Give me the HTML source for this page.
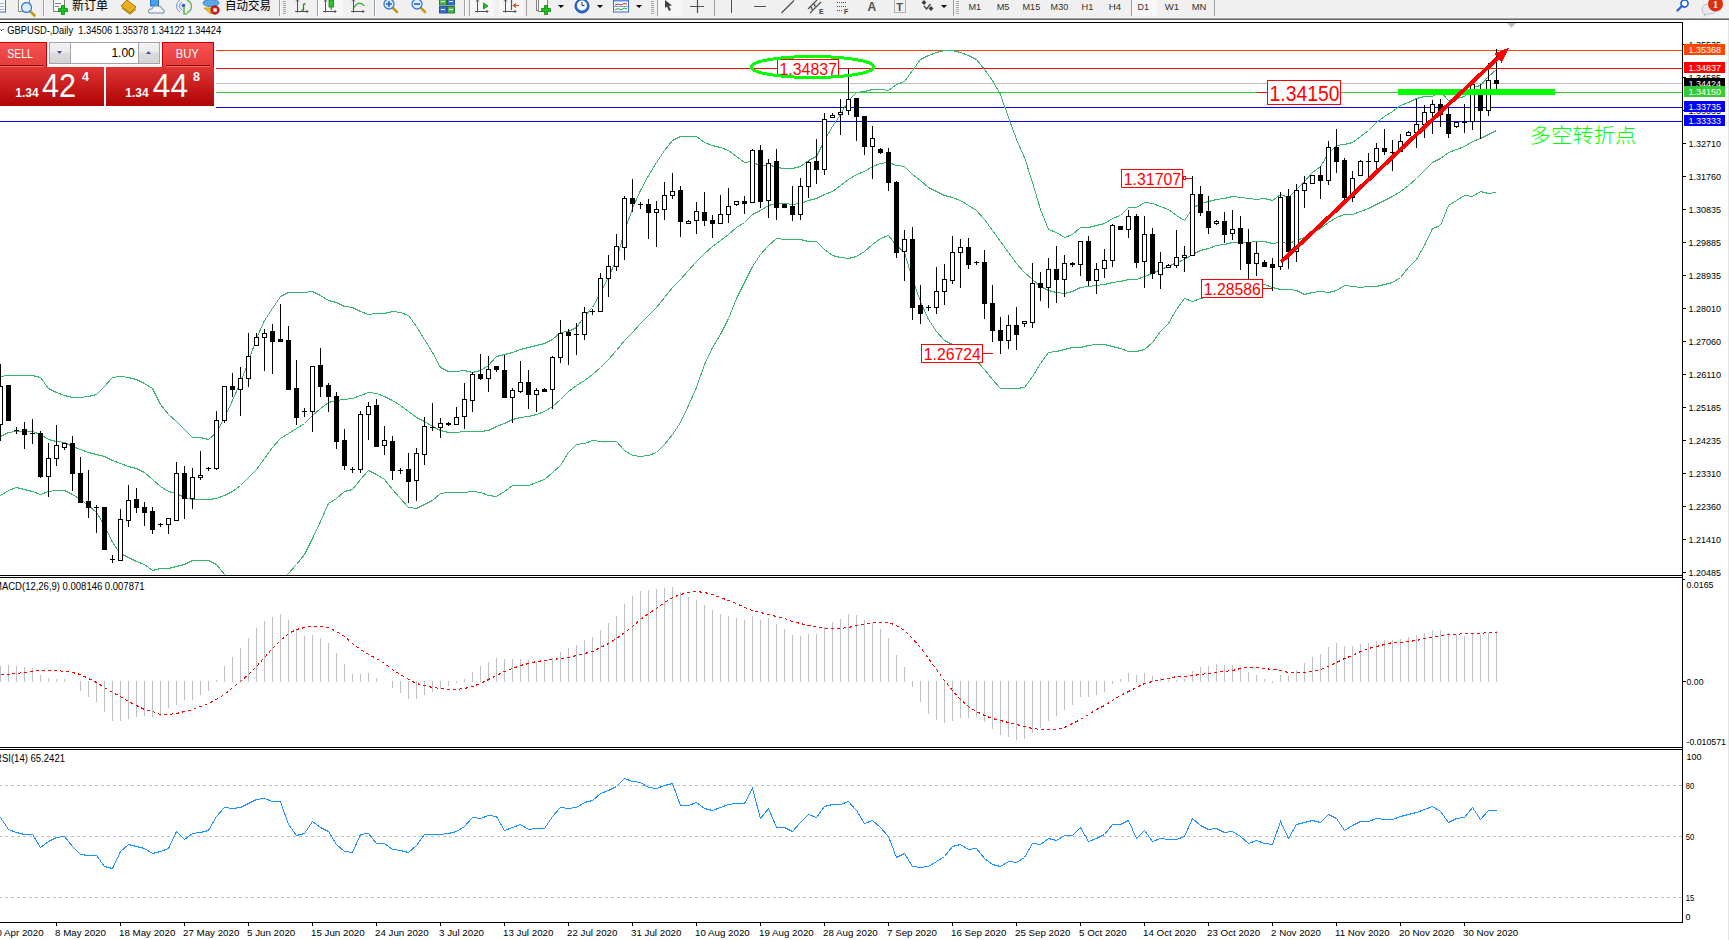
<!DOCTYPE html>
<html><head><meta charset="utf-8"><title>GBPUSD-,Daily</title>
<style>
html,body{margin:0;padding:0;background:#fff;}
body{width:1729px;height:940px;overflow:hidden;position:relative;}
svg text{white-space:pre;}
</style></head><body>
<svg width="1729" height="940" viewBox="0 0 1729 940" shape-rendering="crispEdges" style="position:absolute;left:0;top:0">
<defs><clipPath id="cMain"><rect x="0" y="23" width="1682" height="552"/></clipPath><clipPath id="cMacd"><rect x="0" y="578" width="1682" height="169"/></clipPath><clipPath id="cRsi"><rect x="0" y="750" width="1682" height="172"/></clipPath></defs>
<rect x="0" y="0" width="1729" height="17" fill="#f0f0f0"/>
<rect x="0" y="17" width="1729" height="1" fill="#f6f6f6"/>
<rect x="0" y="18" width="1729" height="1" fill="#a0a0a0"/>
<rect x="0" y="19" width="1729" height="1" fill="#696969"/>
<rect x="0" y="20" width="1729" height="2" fill="#ffffff"/>
<g id="toolbar-icons"><g shape-rendering="auto">
<rect x="-6" y="-2" width="11.5" height="14" fill="#fff" stroke="#3d6fd0" stroke-width="1"/>
<path d="M0,3.5 h4 M0,6.5 h4 M0,9.5 h4" stroke="#8fb0ee" stroke-width="1"/>
<rect x="18.5" y="-2.5" width="11" height="14" fill="#fafafa" stroke="#909090" stroke-width="1"/>
<line x1="30" y1="11" x2="34.5" y2="15.5" stroke="#c89a10" stroke-width="2.6" stroke-linecap="round"/><circle cx="26.5" cy="7.5" r="5" fill="#dcecff" stroke="#3a7bd5" stroke-width="1.3"/>
<rect x="43" y="0" width="1" height="16" fill="#a0a0a0"/><rect x="44" y="0" width="1" height="16" fill="#ffffff"/>
<rect x="53.5" y="-2.5" width="11" height="14" fill="#fafafa" stroke="#808080" stroke-width="1"/>
<path d="M55,3.5 h6 M55,6.5 h4" stroke="#888" stroke-width="1"/>
<path d="M61.5,5.5 h3 v3 h3 v3 h-3 v3 h-3 v-3 h-3 v-3 h3 z" fill="#1dbf1d" stroke="#0b8a0b" stroke-width="0.8"/>
<text x="72" y="10" font-family="'Liberation Sans', 'Noto Sans CJK SC', sans-serif" font-size="12.5" fill="#000" textLength="36" lengthAdjust="spacingAndGlyphs">新订单</text>
<path d="M121,6 L127,0 L136,7 L130,13 Z" fill="#e8b020" stroke="#a87808" stroke-width="1"/>
<path d="M122,8 L130,14 L136,9" fill="none" stroke="#b88a18" stroke-width="1.2"/>
<rect x="150.5" y="-2" width="8" height="8" fill="#4aa0f0" stroke="#2a6fc0" stroke-width="1"/>
<path d="M149,13 q-2,-4 3,-4 q1,-4 6,-3 q4,0 4,3 q3,0 2,4 z" fill="#f4f6fa" stroke="#6a84b0" stroke-width="1"/>
<path d="M180,12 a7,7 0 0 1 0,-12" fill="none" stroke="#6890e0" stroke-width="1"/>
<path d="M182,10 a4.5,4.5 0 0 1 0,-8" fill="none" stroke="#6890e0" stroke-width="1"/>
<path d="M187,0 a7,7 0 0 1 0,13" fill="none" stroke="#6ab86a" stroke-width="1.5"/>
<circle cx="183.5" cy="5.5" r="1.8" fill="#2f5fc8"/>
<path d="M184,6 v8 h3" fill="none" stroke="#2aa52a" stroke-width="1.2"/>
<ellipse cx="211" cy="3" rx="8" ry="3.5" fill="#5aa9e6" stroke="#3c7fbf" stroke-width="1"/>
<path d="M204,8 L211,14 L217,8 Z" fill="#f3c431" stroke="#c89818" stroke-width="1"/>
<circle cx="215" cy="10" r="4.2" fill="#d32020" stroke="#a01010" stroke-width="0.8"/>
<rect x="213.3" y="8.3" width="3.4" height="3.4" fill="#fff"/>
<text x="225" y="10" font-family="'Liberation Sans', 'Noto Sans CJK SC', sans-serif" font-size="12.5" fill="#000" textLength="46" lengthAdjust="spacingAndGlyphs">自动交易</text>
</g>
<rect x="279" y="0" width="1" height="16" fill="#a0a0a0"/><rect x="280" y="0" width="1" height="16" fill="#ffffff"/>
<rect x="283" y="1" width="3" height="1" fill="#a8a8a8"/><rect x="283" y="3" width="3" height="1" fill="#a8a8a8"/><rect x="283" y="5" width="3" height="1" fill="#a8a8a8"/><rect x="283" y="7" width="3" height="1" fill="#a8a8a8"/><rect x="283" y="9" width="3" height="1" fill="#a8a8a8"/><rect x="283" y="11" width="3" height="1" fill="#a8a8a8"/><rect x="283" y="13" width="3" height="1" fill="#a8a8a8"/>
<g shape-rendering="auto">
<g stroke="#505050" stroke-width="1" fill="none"><path d="M297.5,0 V12.5 M295,11.5 H308"/><path d="M296,1.5 L297.5,0 L299,1.5 M306.5,10 L308,11.5 L306.5,13"/></g>
<path d="M301.5,10 h2 v-6 M303.5,4 h2" stroke="#1a9a1a" stroke-width="1.3" fill="none"/>
</g>
<rect x="317" y="0" width="1" height="16" fill="#a0a0a0"/><rect x="318" y="0" width="1" height="16" fill="#ffffff"/>
<rect x="319" y="0" width="24" height="16" fill="#f7f7f7"/>
<g shape-rendering="auto">
<g stroke="#505050" stroke-width="1" fill="none"><path d="M325.5,0 V12.5 M323,11.5 H336"/><path d="M324,1.5 L325.5,0 L327,1.5 M334.5,10 L336,11.5 L334.5,13"/></g>
<rect x="329" y="0" width="4.5" height="7" fill="#28c828" stroke="#108010" stroke-width="0.8"/>
<path d="M331.2,7 v3" stroke="#108010" stroke-width="1"/>
<g stroke="#505050" stroke-width="1" fill="none"><path d="M353.5,0 V12.5 M351,11.5 H364"/><path d="M352,1.5 L353.5,0 L355,1.5 M362.5,10 L364,11.5 L362.5,13"/></g>
<path d="M353,9 q3,-5 6,-6 q3,0 5.5,3" fill="none" stroke="#1a9a1a" stroke-width="1.1"/>
</g>
<rect x="374" y="0" width="1" height="16" fill="#a0a0a0"/><rect x="375" y="0" width="1" height="16" fill="#ffffff"/>
<g shape-rendering="auto">
<line x1="392.5" y1="7.5" x2="397" y2="12" stroke="#c89a10" stroke-width="2.6" stroke-linecap="round"/><circle cx="389" cy="4" r="5" fill="#dcecff" stroke="#3a7bd5" stroke-width="1.3"/><path d="M386,4 h6 M389,1 v6" stroke="#2a63b8" stroke-width="1.6"/>
<line x1="420.5" y1="7.5" x2="425" y2="12" stroke="#c89a10" stroke-width="2.6" stroke-linecap="round"/><circle cx="417" cy="4" r="5" fill="#dcecff" stroke="#3a7bd5" stroke-width="1.3"/><path d="M414,4 h6" stroke="#2a63b8" stroke-width="1.6"/>
<rect x="439.5" y="-1.5" width="7" height="6.5" fill="#48b848" stroke="#2a7a2a"/><rect x="447.5" y="-1.5" width="7" height="6.5" fill="#3a6fd8" stroke="#2a4fa8"/>
<rect x="439.5" y="6.5" width="7" height="6.5" fill="#3a6fd8" stroke="#2a4fa8"/><rect x="447.5" y="6.5" width="7" height="6.5" fill="#48b848" stroke="#2a7a2a"/>
<path d="M441,1.5 h4 M449,1.5 h4 M441,9.5 h4 M449,9.5 h4" stroke="#fff" stroke-width="1"/>
</g>
<rect x="464" y="0" width="1" height="16" fill="#a0a0a0"/><rect x="465" y="0" width="1" height="16" fill="#ffffff"/>
<rect x="469" y="0" width="1" height="16" fill="#a0a0a0"/>
<rect x="470" y="0" width="24" height="16" fill="#f7f7f7"/>
<rect x="499" y="0" width="24" height="16" fill="#f7f7f7"/>
<g shape-rendering="auto">
<g stroke="#505050" stroke-width="1" fill="none"><path d="M477.5,0 V12.5 M475,11.5 H488"/><path d="M476,1.5 L477.5,0 L479,1.5 M486.5,10 L488,11.5 L486.5,13"/></g>
<path d="M483.5,3 L488,6 L483.5,9 Z" fill="#20c020" stroke="#108010" stroke-width="0.8"/>
<g stroke="#505050" stroke-width="1" fill="none"><path d="M505.5,0 V12.5 M503,11.5 H516"/><path d="M504,1.5 L505.5,0 L507,1.5 M514.5,10 L516,11.5 L514.5,13"/></g>
<path d="M511.5,0 V10" stroke="#2060c0" stroke-width="1.2"/>
<path d="M519,5.5 h-5 M516,3.5 l-2.5,2 l2.5,2" stroke="#e04010" stroke-width="1.2" fill="none"/>
</g>
<rect x="526" y="0" width="1" height="16" fill="#a0a0a0"/>
<g shape-rendering="auto">
<rect x="536.5" y="-2.5" width="9" height="13" fill="#fafafa" stroke="#808080" stroke-width="1"/>
<rect x="538.5" y="-0.5" width="9" height="12" fill="#fafafa" stroke="#808080" stroke-width="1"/>
<path d="M544.5,5.5 h3 v3 h3 v3 h-3 v3 h-3 v-3 h-3 v-3 h3 z" fill="#1dbf1d" stroke="#0b8a0b" stroke-width="0.8"/>
<polygon points="558,5 564,5 561,8" fill="#000"/>
<circle cx="582" cy="6" r="7" fill="#2a6fd0" stroke="#1a4fa0" stroke-width="1"/>
<circle cx="582" cy="5.5" r="5" fill="#f4f8ff"/>
<path d="M582,2 v3.5 h2.5" stroke="#333" stroke-width="1" fill="none"/>
<polygon points="597,5 603,5 600,8" fill="#000"/>
<rect x="613.5" y="-1.5" width="15" height="13.5" fill="#f8fbff" stroke="#3a6fd0" stroke-width="1"/>
<rect x="614" y="-1" width="14" height="2.5" fill="#5a8ee0"/>
<path d="M615,5 l3,-1 l3,1 l3,-1.5 l3,0.5" stroke="#c03030" stroke-width="1" fill="none"/>
<path d="M615,10 l3,-1.5 l3,1.5 l3,-2 l3,1" stroke="#30a030" stroke-width="1" fill="none"/>
<path d="M614,6.5 h14" stroke="#6a8ed0" stroke-width="0.8"/>
<polygon points="636,5 642,5 639,8" fill="#000"/>
</g>
<rect x="651" y="1" width="3" height="1" fill="#a8a8a8"/><rect x="651" y="3" width="3" height="1" fill="#a8a8a8"/><rect x="651" y="5" width="3" height="1" fill="#a8a8a8"/><rect x="651" y="7" width="3" height="1" fill="#a8a8a8"/><rect x="651" y="9" width="3" height="1" fill="#a8a8a8"/><rect x="651" y="11" width="3" height="1" fill="#a8a8a8"/><rect x="651" y="13" width="3" height="1" fill="#a8a8a8"/>
<rect x="657" y="0" width="1" height="16" fill="#a0a0a0"/>
<rect x="658" y="0" width="24" height="16" fill="#f7f7f7"/>
<g shape-rendering="auto">
<path d="M665,0 L665,8 L667,6.5 L669,11 L671,10 L669,6 L672,5.5 Z" fill="#404040"/>
<path d="M690,6.5 h14 M697.5,0 v13" stroke="#505050" stroke-width="1.2"/>
</g>
<rect x="714" y="0" width="1" height="16" fill="#a0a0a0"/>
<rect x="731" y="0" width="1.3" height="13" fill="#505050"/>
<rect x="754" y="6" width="12" height="1.3" fill="#505050"/>
<g shape-rendering="auto">
<path d="M781.5,13 L794,0.5" stroke="#505050" stroke-width="1.2"/>
<path d="M808,9 L817,0 M810,13 L821,2 M810,6 l2,2 M813,3 l2,2 M813,10 l-2,-2 M816,7 l-2,-2" stroke="#505050" stroke-width="1.1" fill="none"/>
<text x="819" y="14" font-family="'Liberation Sans', Arial, sans-serif" font-size="7" font-weight="bold" fill="#404040">E</text>
<path d="M837,2.5 h10 M837,6.5 h10 M837,10.5 h6" stroke="#505050" stroke-width="1" stroke-dasharray="1,1" fill="none"/>
<text x="844" y="14" font-family="'Liberation Sans', Arial, sans-serif" font-size="7" font-weight="bold" fill="#404040">F</text>
<text x="867.5" y="11" font-family="'Liberation Sans', Arial, sans-serif" font-size="12" font-weight="bold" fill="#505050">A</text>
<rect x="894.5" y="-0.5" width="11" height="13" fill="none" stroke="#707070" stroke-width="1" stroke-dasharray="1,1"/>
<text x="896.2" y="10.5" font-family="'Liberation Sans', Arial, sans-serif" font-size="11" font-weight="bold" fill="#505050">T</text>
<path d="M924,0 l2.5,2.5 l-2.5,2.5 l-2.5,-2.5 Z M931,6 l2.5,2.5 l-2.5,2.5 l-2.5,-2.5 Z" fill="#404040"/>
<path d="M924,6 l2.5,3 l4,-5" stroke="#404040" stroke-width="1.3" fill="none"/>
<polygon points="941,5 947,5 944,8" fill="#000"/>
</g>
<rect x="953" y="0" width="1" height="16" fill="#a0a0a0"/>
<rect x="956" y="1" width="3" height="1" fill="#a8a8a8"/><rect x="956" y="3" width="3" height="1" fill="#a8a8a8"/><rect x="956" y="5" width="3" height="1" fill="#a8a8a8"/><rect x="956" y="7" width="3" height="1" fill="#a8a8a8"/><rect x="956" y="9" width="3" height="1" fill="#a8a8a8"/><rect x="956" y="11" width="3" height="1" fill="#a8a8a8"/><rect x="956" y="13" width="3" height="1" fill="#a8a8a8"/>
<rect x="1132" y="0" width="25" height="16" fill="#f7f7f7"/>
<g font-family="'Liberation Sans', Arial, sans-serif" font-size="9.5" fill="#303030">
<text x="968.4" y="10" textLength="12.7" lengthAdjust="spacingAndGlyphs">M1</text>
<text x="996.7" y="10" textLength="12.8" lengthAdjust="spacingAndGlyphs">M5</text>
<text x="1022.5" y="10" textLength="17.7" lengthAdjust="spacingAndGlyphs">M15</text>
<text x="1050.6" y="10" textLength="17.6" lengthAdjust="spacingAndGlyphs">M30</text>
<text x="1081.5" y="10" textLength="11.9" lengthAdjust="spacingAndGlyphs">H1</text>
<text x="1108.7" y="10" textLength="12.5" lengthAdjust="spacingAndGlyphs">H4</text>
<text x="1137.6" y="10" textLength="11.5" lengthAdjust="spacingAndGlyphs">D1</text>
<text x="1164.8" y="10" textLength="14.4" lengthAdjust="spacingAndGlyphs">W1</text>
<text x="1191.7" y="10" textLength="14.7" lengthAdjust="spacingAndGlyphs">MN</text>
</g>
<rect x="1131" y="0" width="1" height="16" fill="#a0a0a0"/>
<rect x="1214" y="0" width="1" height="16" fill="#a0a0a0"/>
<g shape-rendering="auto">
<circle cx="1684.5" cy="3.5" r="3.6" fill="#fff" stroke="#1e5fd0" stroke-width="1.6"/>
<path d="M1682,6 L1677.5,10.5" stroke="#2a66d6" stroke-width="2.4" stroke-linecap="round"/>
<path d="M1702,10 q0,-6 7,-6 q7,0 7,5 q0,5 -7,5 l-3,0 l-2,2.5 l0.5,-3 q-2.5,-1 -2.5,-3.5 z" fill="#e8e8ee" stroke="#b0b0b8" stroke-width="0.8"/>
<circle cx="1715.5" cy="4" r="7.5" fill="#dd3010"/>
<text x="1713" y="8" font-family="'Liberation Serif', serif" font-size="10" font-weight="bold" fill="#fff">1</text>
</g></g>
<g clip-path="url(#cMain)">
<rect x="0" y="50" width="1682" height="1" fill="#ff4500"/>
<rect x="0" y="68" width="1682" height="1" fill="#ff0000"/>
<rect x="0" y="83" width="1683" height="1" fill="#c0c0c0"/>
<rect x="0" y="92" width="1682" height="1" fill="#32cd32"/>
<rect x="0" y="107" width="1682" height="1" fill="#0000ff"/>
<rect x="0" y="121" width="1682" height="1" fill="#0000ff"/>
<polyline fill="none" stroke="#3cb371" stroke-width="1" points="0.5,376.5 8.5,375.5 16.5,375.5 24.5,375.5 32.5,375.5 40.5,377.5 48.5,388.5 56.5,392.5 64.5,395.5 72.5,397.5 80.5,397.5 88.5,396.5 96.5,394.5 104.5,386.5 112.5,377.5 120.5,376.5 128.5,377.5 136.5,379.5 144.5,383.5 152.5,388.5 160.5,404.5 168.5,414.5 176.5,421.5 184.5,429.5 192.5,437.5 200.5,437.5 208.5,439.5 216.5,432.5 224.5,417.5 232.5,400.5 240.5,382.5 248.5,361.5 256.5,338.5 264.5,320.5 272.5,308.5 280.5,296.5 288.5,292.5 296.5,292.5 304.5,292.5 312.5,291.5 320.5,295.5 328.5,300.5 336.5,302.5 344.5,306.5 352.5,307.5 360.5,311.5 368.5,314.5 376.5,313.5 384.5,313.5 392.5,311.5 400.5,312.5 408.5,315.5 416.5,326.5 424.5,339.5 432.5,352.5 440.5,367.5 448.5,371.5 456.5,371.5 464.5,370.5 472.5,372.5 480.5,370.5 488.5,365.5 496.5,356.5 504.5,354.5 512.5,352.5 520.5,349.5 528.5,347.5 536.5,345.5 544.5,343.5 552.5,339.5 560.5,332.5 568.5,331.5 576.5,327.5 584.5,316.5 592.5,307.5 600.5,292.5 608.5,277.5 616.5,259.5 624.5,231.5 632.5,208.5 640.5,190.5 648.5,175.5 656.5,162.5 664.5,150.5 672.5,140.5 680.5,136.5 688.5,136.5 696.5,136.5 704.5,142.5 712.5,145.5 720.5,147.5 728.5,150.5 736.5,156.5 744.5,162.5 752.5,161.5 760.5,166.5 768.5,164.5 776.5,167.5 784.5,168.5 792.5,168.5 800.5,166.5 808.5,160.5 816.5,156.5 824.5,140.5 832.5,126.5 840.5,114.5 848.5,100.5 856.5,92.5 864.5,91.5 872.5,89.5 880.5,89.5 888.5,90.5 896.5,84.5 904.5,81.5 912.5,70.5 920.5,59.5 928.5,55.5 936.5,52.5 944.5,50.5 952.5,50.5 960.5,52.5 968.5,55.5 976.5,59.5 984.5,69.5 992.5,80.5 1000.5,94.5 1008.5,117.5 1016.5,139.5 1024.5,157.5 1032.5,182.5 1040.5,209.5 1048.5,229.5 1056.5,232.5 1064.5,237.5 1072.5,234.5 1080.5,227.5 1088.5,227.5 1096.5,225.5 1104.5,223.5 1112.5,218.5 1120.5,215.5 1128.5,207.5 1136.5,207.5 1144.5,202.5 1152.5,203.5 1160.5,206.5 1168.5,209.5 1176.5,215.5 1184.5,220.5 1192.5,208.5 1200.5,203.5 1208.5,201.5 1216.5,199.5 1224.5,198.5 1232.5,196.5 1240.5,197.5 1248.5,198.5 1256.5,199.5 1264.5,198.5 1272.5,200.5 1280.5,194.5 1288.5,197.5 1296.5,189.5 1304.5,181.5 1312.5,172.5 1320.5,166.5 1328.5,153.5 1336.5,145.5 1344.5,144.5 1352.5,142.5 1360.5,136.5 1368.5,130.5 1376.5,122.5 1384.5,116.5 1392.5,111.5 1400.5,105.5 1408.5,102.5 1416.5,98.5 1424.5,96.5 1432.5,96.5 1440.5,91.5 1448.5,100.5 1456.5,98.5 1464.5,96.5 1472.5,87.5 1480.5,85.5 1488.5,76.5 1496.5,69.5"/>
<polyline fill="none" stroke="#3cb371" stroke-width="1" points="0.5,436.5 8.5,432.5 16.5,431.5 24.5,431.5 32.5,431.5 40.5,434.5 48.5,439.5 56.5,441.5 64.5,442.5 72.5,446.5 80.5,449.5 88.5,452.5 96.5,454.5 104.5,456.5 112.5,460.5 120.5,463.5 128.5,466.5 136.5,468.5 144.5,472.5 152.5,479.5 160.5,486.5 168.5,491.5 176.5,493.5 184.5,497.5 192.5,499.5 200.5,499.5 208.5,499.5 216.5,498.5 224.5,495.5 232.5,491.5 240.5,485.5 248.5,477.5 256.5,469.5 264.5,458.5 272.5,447.5 280.5,438.5 288.5,433.5 296.5,428.5 304.5,423.5 312.5,415.5 320.5,408.5 328.5,402.5 336.5,400.5 344.5,399.5 352.5,398.5 360.5,395.5 368.5,392.5 376.5,393.5 384.5,396.5 392.5,400.5 400.5,405.5 408.5,411.5 416.5,417.5 424.5,421.5 432.5,426.5 440.5,430.5 448.5,432.5 456.5,432.5 464.5,431.5 472.5,431.5 480.5,431.5 488.5,430.5 496.5,426.5 504.5,423.5 512.5,419.5 520.5,417.5 528.5,416.5 536.5,414.5 544.5,411.5 552.5,406.5 560.5,399.5 568.5,391.5 576.5,385.5 584.5,380.5 592.5,374.5 600.5,367.5 608.5,359.5 616.5,350.5 624.5,340.5 632.5,332.5 640.5,323.5 648.5,315.5 656.5,307.5 664.5,297.5 672.5,287.5 680.5,279.5 688.5,270.5 696.5,261.5 704.5,253.5 712.5,246.5 720.5,240.5 728.5,234.5 736.5,227.5 744.5,222.5 752.5,214.5 760.5,210.5 768.5,205.5 776.5,203.5 784.5,203.5 792.5,204.5 800.5,203.5 808.5,200.5 816.5,198.5 824.5,194.5 832.5,191.5 840.5,185.5 848.5,179.5 856.5,174.5 864.5,171.5 872.5,166.5 880.5,163.5 888.5,162.5 896.5,165.5 904.5,166.5 912.5,174.5 920.5,180.5 928.5,187.5 936.5,191.5 944.5,195.5 952.5,197.5 960.5,200.5 968.5,205.5 976.5,210.5 984.5,219.5 992.5,230.5 1000.5,241.5 1008.5,252.5 1016.5,263.5 1024.5,272.5 1032.5,279.5 1040.5,286.5 1048.5,290.5 1056.5,292.5 1064.5,293.5 1072.5,291.5 1080.5,287.5 1088.5,286.5 1096.5,285.5 1104.5,284.5 1112.5,282.5 1120.5,281.5 1128.5,279.5 1136.5,279.5 1144.5,276.5 1152.5,273.5 1160.5,269.5 1168.5,266.5 1176.5,262.5 1184.5,259.5 1192.5,254.5 1200.5,250.5 1208.5,248.5 1216.5,245.5 1224.5,244.5 1232.5,242.5 1240.5,242.5 1248.5,242.5 1256.5,241.5 1264.5,241.5 1272.5,243.5 1280.5,242.5 1288.5,243.5 1296.5,240.5 1304.5,237.5 1312.5,232.5 1320.5,228.5 1328.5,222.5 1336.5,217.5 1344.5,214.5 1352.5,214.5 1360.5,211.5 1368.5,208.5 1376.5,204.5 1384.5,200.5 1392.5,196.5 1400.5,191.5 1408.5,185.5 1416.5,178.5 1424.5,170.5 1432.5,162.5 1440.5,158.5 1448.5,152.5 1456.5,149.5 1464.5,146.5 1472.5,141.5 1480.5,138.5 1488.5,134.5 1496.5,130.5"/>
<polyline fill="none" stroke="#3cb371" stroke-width="1" points="0.5,495.5 8.5,490.5 16.5,487.5 24.5,489.5 32.5,491.5 40.5,494.5 48.5,491.5 56.5,490.5 64.5,490.5 72.5,494.5 80.5,499.5 88.5,505.5 96.5,512.5 104.5,525.5 112.5,542.5 120.5,553.5 128.5,557.5 136.5,561.5 144.5,564.5 152.5,570.5 160.5,568.5 168.5,568.5 176.5,566.5 184.5,564.5 192.5,560.5 200.5,560.5 208.5,560.5 216.5,564.5 224.5,574.5 232.5,582.5 240.5,588.5 248.5,594.5 256.5,599.5 264.5,596.5 272.5,586.5 280.5,580.5 288.5,573.5 296.5,564.5 304.5,554.5 312.5,538.5 320.5,521.5 328.5,503.5 336.5,498.5 344.5,491.5 352.5,489.5 360.5,479.5 368.5,470.5 376.5,474.5 384.5,479.5 392.5,489.5 400.5,498.5 408.5,507.5 416.5,508.5 424.5,504.5 432.5,500.5 440.5,493.5 448.5,492.5 456.5,492.5 464.5,492.5 472.5,491.5 480.5,492.5 488.5,495.5 496.5,496.5 504.5,491.5 512.5,485.5 520.5,485.5 528.5,485.5 536.5,482.5 544.5,479.5 552.5,472.5 560.5,465.5 568.5,452.5 576.5,444.5 584.5,443.5 592.5,440.5 600.5,441.5 608.5,441.5 616.5,441.5 624.5,450.5 632.5,455.5 640.5,456.5 648.5,455.5 656.5,452.5 664.5,444.5 672.5,434.5 680.5,422.5 688.5,405.5 696.5,387.5 704.5,364.5 712.5,347.5 720.5,334.5 728.5,318.5 736.5,298.5 744.5,282.5 752.5,266.5 760.5,254.5 768.5,245.5 776.5,238.5 784.5,239.5 792.5,239.5 800.5,239.5 808.5,241.5 816.5,241.5 824.5,249.5 832.5,255.5 840.5,257.5 848.5,258.5 856.5,256.5 864.5,251.5 872.5,244.5 880.5,238.5 888.5,235.5 896.5,245.5 904.5,252.5 912.5,279.5 920.5,301.5 928.5,319.5 936.5,331.5 944.5,340.5 952.5,344.5 960.5,348.5 968.5,355.5 976.5,360.5 984.5,369.5 992.5,379.5 1000.5,388.5 1008.5,388.5 1016.5,388.5 1024.5,387.5 1032.5,376.5 1040.5,363.5 1048.5,352.5 1056.5,351.5 1064.5,349.5 1072.5,347.5 1080.5,347.5 1088.5,345.5 1096.5,344.5 1104.5,344.5 1112.5,346.5 1120.5,348.5 1128.5,351.5 1136.5,351.5 1144.5,349.5 1152.5,342.5 1160.5,331.5 1168.5,323.5 1176.5,309.5 1184.5,298.5 1192.5,301.5 1200.5,298.5 1208.5,296.5 1216.5,292.5 1224.5,290.5 1232.5,288.5 1240.5,288.5 1248.5,285.5 1256.5,283.5 1264.5,284.5 1272.5,287.5 1280.5,289.5 1288.5,289.5 1296.5,290.5 1304.5,294.5 1312.5,292.5 1320.5,291.5 1328.5,292.5 1336.5,290.5 1344.5,285.5 1352.5,286.5 1360.5,287.5 1368.5,286.5 1376.5,286.5 1384.5,284.5 1392.5,282.5 1400.5,277.5 1408.5,267.5 1416.5,259.5 1424.5,245.5 1432.5,228.5 1440.5,225.5 1448.5,205.5 1456.5,200.5 1464.5,195.5 1472.5,196.5 1480.5,191.5 1488.5,193.5 1496.5,192.5"/>
<g fill="#000"><rect x="0" y="364" width="1" height="77"/>
<rect x="-2" y="386" width="5" height="39"/>
<rect x="-1" y="387" width="3" height="37" fill="#fff"/>
<rect x="8" y="385" width="1" height="36"/>
<rect x="6" y="385" width="5" height="36"/>
<rect x="16" y="427" width="1" height="7"/>
<rect x="14" y="430" width="5" height="1"/>
<rect x="24" y="422" width="1" height="27"/>
<rect x="22" y="429" width="5" height="6"/>
<rect x="32" y="419" width="1" height="25"/>
<rect x="30" y="433" width="5" height="1"/>
<rect x="40" y="431" width="1" height="47"/>
<rect x="38" y="433" width="5" height="44"/>
<rect x="48" y="443" width="1" height="54"/>
<rect x="46" y="458" width="5" height="19"/>
<rect x="47" y="459" width="3" height="17" fill="#fff"/>
<rect x="56" y="425" width="1" height="41"/>
<rect x="54" y="445" width="5" height="14"/>
<rect x="55" y="446" width="3" height="12" fill="#fff"/>
<rect x="64" y="443" width="1" height="7"/>
<rect x="62" y="443" width="5" height="5"/>
<rect x="63" y="444" width="3" height="3" fill="#fff"/>
<rect x="72" y="436" width="1" height="55"/>
<rect x="70" y="443" width="5" height="31"/>
<rect x="80" y="457" width="1" height="46"/>
<rect x="78" y="473" width="5" height="30"/>
<rect x="88" y="470" width="1" height="48"/>
<rect x="86" y="501" width="5" height="7"/>
<rect x="96" y="505" width="1" height="28"/>
<rect x="94" y="507" width="5" height="1"/>
<rect x="104" y="507" width="1" height="43"/>
<rect x="102" y="507" width="5" height="43"/>
<rect x="112" y="555" width="1" height="8"/>
<rect x="110" y="559" width="5" height="1"/>
<rect x="120" y="509" width="1" height="52"/>
<rect x="118" y="519" width="5" height="42"/>
<rect x="119" y="520" width="3" height="40" fill="#fff"/>
<rect x="128" y="485" width="1" height="42"/>
<rect x="126" y="500" width="5" height="21"/>
<rect x="127" y="501" width="3" height="19" fill="#fff"/>
<rect x="136" y="488" width="1" height="25"/>
<rect x="134" y="499" width="5" height="9"/>
<rect x="144" y="502" width="1" height="24"/>
<rect x="142" y="507" width="5" height="6"/>
<rect x="152" y="507" width="1" height="27"/>
<rect x="150" y="511" width="5" height="19"/>
<rect x="160" y="523" width="1" height="4"/>
<rect x="158" y="524" width="5" height="1"/>
<rect x="168" y="518" width="1" height="16"/>
<rect x="166" y="518" width="5" height="7"/>
<rect x="167" y="519" width="3" height="5" fill="#fff"/>
<rect x="176" y="462" width="1" height="59"/>
<rect x="174" y="473" width="5" height="48"/>
<rect x="175" y="474" width="3" height="46" fill="#fff"/>
<rect x="184" y="466" width="1" height="53"/>
<rect x="182" y="473" width="5" height="26"/>
<rect x="192" y="468" width="1" height="41"/>
<rect x="190" y="477" width="5" height="22"/>
<rect x="191" y="478" width="3" height="20" fill="#fff"/>
<rect x="200" y="451" width="1" height="29"/>
<rect x="198" y="475" width="5" height="3"/>
<rect x="199" y="476" width="3" height="1" fill="#fff"/>
<rect x="208" y="467" width="1" height="4"/>
<rect x="206" y="468" width="5" height="1"/>
<rect x="216" y="411" width="1" height="59"/>
<rect x="214" y="420" width="5" height="49"/>
<rect x="215" y="421" width="3" height="47" fill="#fff"/>
<rect x="224" y="386" width="1" height="37"/>
<rect x="222" y="386" width="5" height="35"/>
<rect x="223" y="387" width="3" height="33" fill="#fff"/>
<rect x="232" y="373" width="1" height="24"/>
<rect x="230" y="386" width="5" height="4"/>
<rect x="240" y="367" width="1" height="49"/>
<rect x="238" y="378" width="5" height="12"/>
<rect x="239" y="379" width="3" height="10" fill="#fff"/>
<rect x="248" y="333" width="1" height="54"/>
<rect x="246" y="356" width="5" height="23"/>
<rect x="247" y="357" width="3" height="21" fill="#fff"/>
<rect x="256" y="333" width="1" height="13"/>
<rect x="254" y="337" width="5" height="9"/>
<rect x="255" y="338" width="3" height="7" fill="#fff"/>
<rect x="264" y="329" width="1" height="42"/>
<rect x="262" y="333" width="5" height="5"/>
<rect x="263" y="334" width="3" height="3" fill="#fff"/>
<rect x="272" y="324" width="1" height="50"/>
<rect x="270" y="331" width="5" height="11"/>
<rect x="280" y="304" width="1" height="38"/>
<rect x="278" y="339" width="5" height="3"/>
<rect x="288" y="326" width="1" height="64"/>
<rect x="286" y="340" width="5" height="50"/>
<rect x="296" y="360" width="1" height="65"/>
<rect x="294" y="388" width="5" height="30"/>
<rect x="304" y="408" width="1" height="9"/>
<rect x="302" y="411" width="5" height="1"/>
<rect x="312" y="366" width="1" height="66"/>
<rect x="310" y="366" width="5" height="46"/>
<rect x="311" y="367" width="3" height="44" fill="#fff"/>
<rect x="320" y="348" width="1" height="49"/>
<rect x="318" y="365" width="5" height="22"/>
<rect x="328" y="383" width="1" height="29"/>
<rect x="326" y="385" width="5" height="12"/>
<rect x="336" y="392" width="1" height="57"/>
<rect x="334" y="396" width="5" height="46"/>
<rect x="344" y="429" width="1" height="41"/>
<rect x="342" y="440" width="5" height="26"/>
<rect x="352" y="467" width="1" height="6"/>
<rect x="350" y="469" width="5" height="1"/>
<rect x="360" y="411" width="1" height="62"/>
<rect x="358" y="414" width="5" height="56"/>
<rect x="359" y="415" width="3" height="54" fill="#fff"/>
<rect x="368" y="402" width="1" height="38"/>
<rect x="366" y="406" width="5" height="9"/>
<rect x="367" y="407" width="3" height="7" fill="#fff"/>
<rect x="376" y="399" width="1" height="48"/>
<rect x="374" y="405" width="5" height="42"/>
<rect x="384" y="426" width="1" height="29"/>
<rect x="382" y="440" width="5" height="6"/>
<rect x="383" y="441" width="3" height="4" fill="#fff"/>
<rect x="392" y="436" width="1" height="44"/>
<rect x="390" y="441" width="5" height="30"/>
<rect x="400" y="468" width="1" height="6"/>
<rect x="398" y="470" width="5" height="1"/>
<rect x="408" y="453" width="1" height="50"/>
<rect x="406" y="469" width="5" height="13"/>
<rect x="416" y="448" width="1" height="53"/>
<rect x="414" y="453" width="5" height="28"/>
<rect x="415" y="454" width="3" height="26" fill="#fff"/>
<rect x="424" y="417" width="1" height="48"/>
<rect x="422" y="426" width="5" height="29"/>
<rect x="423" y="427" width="3" height="27" fill="#fff"/>
<rect x="432" y="403" width="1" height="28"/>
<rect x="430" y="427" width="5" height="1"/>
<rect x="440" y="418" width="1" height="20"/>
<rect x="438" y="423" width="5" height="5"/>
<rect x="439" y="424" width="3" height="3" fill="#fff"/>
<rect x="448" y="422" width="1" height="4"/>
<rect x="446" y="423" width="5" height="2"/>
<rect x="456" y="407" width="1" height="18"/>
<rect x="454" y="417" width="5" height="8"/>
<rect x="455" y="418" width="3" height="6" fill="#fff"/>
<rect x="464" y="383" width="1" height="46"/>
<rect x="462" y="399" width="5" height="18"/>
<rect x="463" y="400" width="3" height="16" fill="#fff"/>
<rect x="472" y="372" width="1" height="40"/>
<rect x="470" y="374" width="5" height="27"/>
<rect x="471" y="375" width="3" height="25" fill="#fff"/>
<rect x="480" y="354" width="1" height="26"/>
<rect x="478" y="374" width="5" height="5"/>
<rect x="488" y="356" width="1" height="36"/>
<rect x="486" y="369" width="5" height="10"/>
<rect x="487" y="370" width="3" height="8" fill="#fff"/>
<rect x="496" y="366" width="1" height="6"/>
<rect x="494" y="366" width="5" height="4"/>
<rect x="504" y="355" width="1" height="43"/>
<rect x="502" y="370" width="5" height="28"/>
<rect x="512" y="388" width="1" height="35"/>
<rect x="510" y="390" width="5" height="8"/>
<rect x="511" y="391" width="3" height="6" fill="#fff"/>
<rect x="520" y="361" width="1" height="32"/>
<rect x="518" y="382" width="5" height="10"/>
<rect x="519" y="383" width="3" height="8" fill="#fff"/>
<rect x="528" y="370" width="1" height="39"/>
<rect x="526" y="382" width="5" height="13"/>
<rect x="536" y="388" width="1" height="24"/>
<rect x="534" y="390" width="5" height="5"/>
<rect x="535" y="391" width="3" height="3" fill="#fff"/>
<rect x="544" y="388" width="1" height="4"/>
<rect x="542" y="389" width="5" height="3"/>
<rect x="552" y="356" width="1" height="53"/>
<rect x="550" y="357" width="5" height="33"/>
<rect x="551" y="358" width="3" height="31" fill="#fff"/>
<rect x="560" y="320" width="1" height="43"/>
<rect x="558" y="333" width="5" height="25"/>
<rect x="559" y="334" width="3" height="23" fill="#fff"/>
<rect x="568" y="329" width="1" height="36"/>
<rect x="566" y="332" width="5" height="4"/>
<rect x="576" y="323" width="1" height="32"/>
<rect x="574" y="334" width="5" height="1"/>
<rect x="584" y="307" width="1" height="33"/>
<rect x="582" y="312" width="5" height="23"/>
<rect x="583" y="313" width="3" height="21" fill="#fff"/>
<rect x="592" y="309" width="1" height="6"/>
<rect x="590" y="311" width="5" height="1"/>
<rect x="600" y="273" width="1" height="39"/>
<rect x="598" y="278" width="5" height="34"/>
<rect x="599" y="279" width="3" height="32" fill="#fff"/>
<rect x="608" y="255" width="1" height="42"/>
<rect x="606" y="266" width="5" height="13"/>
<rect x="607" y="267" width="3" height="11" fill="#fff"/>
<rect x="616" y="234" width="1" height="37"/>
<rect x="614" y="246" width="5" height="21"/>
<rect x="615" y="247" width="3" height="19" fill="#fff"/>
<rect x="624" y="196" width="1" height="64"/>
<rect x="622" y="198" width="5" height="50"/>
<rect x="623" y="199" width="3" height="48" fill="#fff"/>
<rect x="632" y="179" width="1" height="33"/>
<rect x="630" y="198" width="5" height="6"/>
<rect x="640" y="202" width="1" height="7"/>
<rect x="638" y="204" width="5" height="1"/>
<rect x="648" y="199" width="1" height="40"/>
<rect x="646" y="204" width="5" height="9"/>
<rect x="656" y="201" width="1" height="46"/>
<rect x="654" y="209" width="5" height="4"/>
<rect x="655" y="210" width="3" height="2" fill="#fff"/>
<rect x="664" y="182" width="1" height="38"/>
<rect x="662" y="195" width="5" height="15"/>
<rect x="663" y="196" width="3" height="13" fill="#fff"/>
<rect x="672" y="173" width="1" height="26"/>
<rect x="670" y="191" width="5" height="5"/>
<rect x="671" y="192" width="3" height="3" fill="#fff"/>
<rect x="680" y="186" width="1" height="51"/>
<rect x="678" y="190" width="5" height="32"/>
<rect x="688" y="220" width="1" height="4"/>
<rect x="686" y="221" width="5" height="3"/>
<rect x="687" y="222" width="3" height="1" fill="#fff"/>
<rect x="696" y="202" width="1" height="32"/>
<rect x="694" y="211" width="5" height="10"/>
<rect x="695" y="212" width="3" height="8" fill="#fff"/>
<rect x="704" y="192" width="1" height="34"/>
<rect x="702" y="212" width="5" height="9"/>
<rect x="712" y="215" width="1" height="23"/>
<rect x="710" y="220" width="5" height="4"/>
<rect x="720" y="195" width="1" height="29"/>
<rect x="718" y="214" width="5" height="10"/>
<rect x="719" y="215" width="3" height="8" fill="#fff"/>
<rect x="728" y="188" width="1" height="35"/>
<rect x="726" y="206" width="5" height="9"/>
<rect x="727" y="207" width="3" height="7" fill="#fff"/>
<rect x="736" y="201" width="1" height="5"/>
<rect x="734" y="201" width="5" height="4"/>
<rect x="735" y="202" width="3" height="2" fill="#fff"/>
<rect x="744" y="196" width="1" height="18"/>
<rect x="742" y="201" width="5" height="3"/>
<rect x="752" y="149" width="1" height="54"/>
<rect x="750" y="150" width="5" height="53"/>
<rect x="751" y="151" width="3" height="51" fill="#fff"/>
<rect x="760" y="145" width="1" height="63"/>
<rect x="758" y="150" width="5" height="52"/>
<rect x="768" y="159" width="1" height="59"/>
<rect x="766" y="163" width="5" height="38"/>
<rect x="767" y="164" width="3" height="36" fill="#fff"/>
<rect x="776" y="149" width="1" height="71"/>
<rect x="774" y="161" width="5" height="47"/>
<rect x="784" y="204" width="1" height="4"/>
<rect x="782" y="204" width="5" height="4"/>
<rect x="792" y="186" width="1" height="35"/>
<rect x="790" y="206" width="5" height="9"/>
<rect x="800" y="178" width="1" height="42"/>
<rect x="798" y="186" width="5" height="29"/>
<rect x="799" y="187" width="3" height="27" fill="#fff"/>
<rect x="808" y="161" width="1" height="37"/>
<rect x="806" y="162" width="5" height="25"/>
<rect x="807" y="163" width="3" height="23" fill="#fff"/>
<rect x="816" y="139" width="1" height="45"/>
<rect x="814" y="161" width="5" height="9"/>
<rect x="824" y="113" width="1" height="62"/>
<rect x="822" y="119" width="5" height="51"/>
<rect x="823" y="120" width="3" height="49" fill="#fff"/>
<rect x="832" y="113" width="1" height="5"/>
<rect x="830" y="115" width="5" height="3"/>
<rect x="831" y="116" width="3" height="1" fill="#fff"/>
<rect x="840" y="99" width="1" height="36"/>
<rect x="838" y="112" width="5" height="3"/>
<rect x="839" y="113" width="3" height="1" fill="#fff"/>
<rect x="848" y="69" width="1" height="46"/>
<rect x="846" y="99" width="5" height="12"/>
<rect x="847" y="100" width="3" height="10" fill="#fff"/>
<rect x="856" y="98" width="1" height="43"/>
<rect x="854" y="98" width="5" height="19"/>
<rect x="864" y="116" width="1" height="39"/>
<rect x="862" y="116" width="5" height="31"/>
<rect x="872" y="126" width="1" height="53"/>
<rect x="870" y="138" width="5" height="9"/>
<rect x="871" y="139" width="3" height="7" fill="#fff"/>
<rect x="880" y="148" width="1" height="6"/>
<rect x="878" y="149" width="5" height="4"/>
<rect x="888" y="148" width="1" height="43"/>
<rect x="886" y="152" width="5" height="31"/>
<rect x="896" y="181" width="1" height="77"/>
<rect x="894" y="182" width="5" height="71"/>
<rect x="904" y="230" width="1" height="51"/>
<rect x="902" y="239" width="5" height="13"/>
<rect x="903" y="240" width="3" height="11" fill="#fff"/>
<rect x="912" y="227" width="1" height="93"/>
<rect x="910" y="239" width="5" height="69"/>
<rect x="920" y="285" width="1" height="39"/>
<rect x="918" y="305" width="5" height="9"/>
<rect x="928" y="305" width="1" height="6"/>
<rect x="926" y="307" width="5" height="1"/>
<rect x="936" y="267" width="1" height="47"/>
<rect x="934" y="291" width="5" height="17"/>
<rect x="935" y="292" width="3" height="15" fill="#fff"/>
<rect x="944" y="264" width="1" height="41"/>
<rect x="942" y="279" width="5" height="13"/>
<rect x="943" y="280" width="3" height="11" fill="#fff"/>
<rect x="952" y="236" width="1" height="48"/>
<rect x="950" y="252" width="5" height="29"/>
<rect x="951" y="253" width="3" height="27" fill="#fff"/>
<rect x="960" y="239" width="1" height="49"/>
<rect x="958" y="247" width="5" height="6"/>
<rect x="959" y="248" width="3" height="4" fill="#fff"/>
<rect x="968" y="238" width="1" height="31"/>
<rect x="966" y="247" width="5" height="18"/>
<rect x="976" y="261" width="1" height="4"/>
<rect x="974" y="262" width="5" height="1"/>
<rect x="984" y="250" width="1" height="69"/>
<rect x="982" y="262" width="5" height="42"/>
<rect x="992" y="285" width="1" height="57"/>
<rect x="990" y="303" width="5" height="28"/>
<rect x="1000" y="317" width="1" height="37"/>
<rect x="998" y="330" width="5" height="11"/>
<rect x="1008" y="315" width="1" height="34"/>
<rect x="1006" y="325" width="5" height="16"/>
<rect x="1007" y="326" width="3" height="14" fill="#fff"/>
<rect x="1016" y="307" width="1" height="43"/>
<rect x="1014" y="325" width="5" height="10"/>
<rect x="1024" y="321" width="1" height="6"/>
<rect x="1022" y="321" width="5" height="3"/>
<rect x="1023" y="322" width="3" height="1" fill="#fff"/>
<rect x="1032" y="263" width="1" height="65"/>
<rect x="1030" y="283" width="5" height="40"/>
<rect x="1031" y="284" width="3" height="38" fill="#fff"/>
<rect x="1040" y="272" width="1" height="29"/>
<rect x="1038" y="283" width="5" height="5"/>
<rect x="1048" y="258" width="1" height="50"/>
<rect x="1046" y="269" width="5" height="19"/>
<rect x="1047" y="270" width="3" height="17" fill="#fff"/>
<rect x="1056" y="246" width="1" height="57"/>
<rect x="1054" y="269" width="5" height="11"/>
<rect x="1064" y="255" width="1" height="42"/>
<rect x="1062" y="263" width="5" height="17"/>
<rect x="1063" y="264" width="3" height="15" fill="#fff"/>
<rect x="1072" y="262" width="1" height="5"/>
<rect x="1070" y="263" width="5" height="2"/>
<rect x="1080" y="241" width="1" height="35"/>
<rect x="1078" y="241" width="5" height="24"/>
<rect x="1079" y="242" width="3" height="22" fill="#fff"/>
<rect x="1088" y="236" width="1" height="50"/>
<rect x="1086" y="241" width="5" height="40"/>
<rect x="1096" y="263" width="1" height="31"/>
<rect x="1094" y="269" width="5" height="12"/>
<rect x="1095" y="270" width="3" height="10" fill="#fff"/>
<rect x="1104" y="249" width="1" height="29"/>
<rect x="1102" y="260" width="5" height="9"/>
<rect x="1103" y="261" width="3" height="7" fill="#fff"/>
<rect x="1112" y="224" width="1" height="43"/>
<rect x="1110" y="225" width="5" height="36"/>
<rect x="1111" y="226" width="3" height="34" fill="#fff"/>
<rect x="1120" y="226" width="1" height="4"/>
<rect x="1118" y="226" width="5" height="4"/>
<rect x="1128" y="210" width="1" height="28"/>
<rect x="1126" y="216" width="5" height="14"/>
<rect x="1127" y="217" width="3" height="12" fill="#fff"/>
<rect x="1136" y="214" width="1" height="54"/>
<rect x="1134" y="216" width="5" height="47"/>
<rect x="1144" y="216" width="1" height="72"/>
<rect x="1142" y="234" width="5" height="28"/>
<rect x="1143" y="235" width="3" height="26" fill="#fff"/>
<rect x="1152" y="228" width="1" height="51"/>
<rect x="1150" y="234" width="5" height="40"/>
<rect x="1160" y="252" width="1" height="37"/>
<rect x="1158" y="262" width="5" height="13"/>
<rect x="1159" y="263" width="3" height="11" fill="#fff"/>
<rect x="1168" y="264" width="1" height="4"/>
<rect x="1166" y="265" width="5" height="3"/>
<rect x="1167" y="266" width="3" height="1" fill="#fff"/>
<rect x="1176" y="230" width="1" height="38"/>
<rect x="1174" y="257" width="5" height="9"/>
<rect x="1175" y="258" width="3" height="7" fill="#fff"/>
<rect x="1184" y="246" width="1" height="26"/>
<rect x="1182" y="255" width="5" height="3"/>
<rect x="1183" y="256" width="3" height="1" fill="#fff"/>
<rect x="1192" y="176" width="1" height="80"/>
<rect x="1190" y="194" width="5" height="62"/>
<rect x="1191" y="195" width="3" height="60" fill="#fff"/>
<rect x="1200" y="186" width="1" height="30"/>
<rect x="1198" y="194" width="5" height="19"/>
<rect x="1208" y="196" width="1" height="38"/>
<rect x="1206" y="211" width="5" height="17"/>
<rect x="1216" y="220" width="1" height="5"/>
<rect x="1214" y="221" width="5" height="3"/>
<rect x="1215" y="222" width="3" height="1" fill="#fff"/>
<rect x="1224" y="212" width="1" height="31"/>
<rect x="1222" y="221" width="5" height="14"/>
<rect x="1232" y="210" width="1" height="30"/>
<rect x="1230" y="229" width="5" height="5"/>
<rect x="1231" y="230" width="3" height="3" fill="#fff"/>
<rect x="1240" y="216" width="1" height="54"/>
<rect x="1238" y="228" width="5" height="16"/>
<rect x="1248" y="229" width="1" height="53"/>
<rect x="1246" y="242" width="5" height="22"/>
<rect x="1256" y="242" width="1" height="34"/>
<rect x="1254" y="253" width="5" height="11"/>
<rect x="1255" y="254" width="3" height="9" fill="#fff"/>
<rect x="1264" y="260" width="1" height="7"/>
<rect x="1262" y="262" width="5" height="5"/>
<rect x="1272" y="258" width="1" height="33"/>
<rect x="1270" y="264" width="5" height="4"/>
<rect x="1280" y="192" width="1" height="78"/>
<rect x="1278" y="197" width="5" height="70"/>
<rect x="1279" y="198" width="3" height="68" fill="#fff"/>
<rect x="1288" y="189" width="1" height="80"/>
<rect x="1286" y="196" width="5" height="56"/>
<rect x="1296" y="184" width="1" height="78"/>
<rect x="1294" y="190" width="5" height="62"/>
<rect x="1295" y="191" width="3" height="60" fill="#fff"/>
<rect x="1304" y="176" width="1" height="32"/>
<rect x="1302" y="183" width="5" height="8"/>
<rect x="1303" y="184" width="3" height="6" fill="#fff"/>
<rect x="1312" y="175" width="1" height="9"/>
<rect x="1310" y="175" width="5" height="9"/>
<rect x="1311" y="176" width="3" height="7" fill="#fff"/>
<rect x="1320" y="166" width="1" height="33"/>
<rect x="1318" y="175" width="5" height="6"/>
<rect x="1328" y="141" width="1" height="44"/>
<rect x="1326" y="147" width="5" height="34"/>
<rect x="1327" y="148" width="3" height="32" fill="#fff"/>
<rect x="1336" y="129" width="1" height="44"/>
<rect x="1334" y="147" width="5" height="15"/>
<rect x="1344" y="158" width="1" height="43"/>
<rect x="1342" y="160" width="5" height="38"/>
<rect x="1352" y="171" width="1" height="31"/>
<rect x="1350" y="178" width="5" height="20"/>
<rect x="1351" y="179" width="3" height="18" fill="#fff"/>
<rect x="1360" y="160" width="1" height="16"/>
<rect x="1358" y="161" width="5" height="15"/>
<rect x="1359" y="162" width="3" height="13" fill="#fff"/>
<rect x="1368" y="153" width="1" height="26"/>
<rect x="1366" y="161" width="5" height="1"/>
<rect x="1376" y="143" width="1" height="29"/>
<rect x="1374" y="148" width="5" height="14"/>
<rect x="1375" y="149" width="3" height="12" fill="#fff"/>
<rect x="1384" y="129" width="1" height="26"/>
<rect x="1382" y="148" width="5" height="4"/>
<rect x="1392" y="140" width="1" height="31"/>
<rect x="1390" y="152" width="5" height="1"/>
<rect x="1400" y="134" width="1" height="18"/>
<rect x="1398" y="141" width="5" height="11"/>
<rect x="1399" y="142" width="3" height="9" fill="#fff"/>
<rect x="1408" y="131" width="1" height="5"/>
<rect x="1406" y="132" width="5" height="4"/>
<rect x="1407" y="133" width="3" height="2" fill="#fff"/>
<rect x="1416" y="99" width="1" height="49"/>
<rect x="1414" y="124" width="5" height="9"/>
<rect x="1415" y="125" width="3" height="7" fill="#fff"/>
<rect x="1424" y="105" width="1" height="33"/>
<rect x="1422" y="112" width="5" height="13"/>
<rect x="1423" y="113" width="3" height="11" fill="#fff"/>
<rect x="1432" y="100" width="1" height="34"/>
<rect x="1430" y="104" width="5" height="9"/>
<rect x="1431" y="105" width="3" height="7" fill="#fff"/>
<rect x="1440" y="99" width="1" height="28"/>
<rect x="1438" y="104" width="5" height="11"/>
<rect x="1448" y="108" width="1" height="30"/>
<rect x="1446" y="114" width="5" height="20"/>
<rect x="1456" y="122" width="1" height="6"/>
<rect x="1454" y="122" width="5" height="5"/>
<rect x="1455" y="123" width="3" height="3" fill="#fff"/>
<rect x="1464" y="104" width="1" height="29"/>
<rect x="1462" y="122" width="5" height="1"/>
<rect x="1472" y="83" width="1" height="47"/>
<rect x="1470" y="84" width="5" height="38"/>
<rect x="1471" y="85" width="3" height="36" fill="#fff"/>
<rect x="1480" y="84" width="1" height="55"/>
<rect x="1478" y="95" width="5" height="16"/>
<rect x="1488" y="63" width="1" height="53"/>
<rect x="1486" y="80" width="5" height="31"/>
<rect x="1487" y="81" width="3" height="29" fill="#fff"/>
<rect x="1496" y="49" width="1" height="41"/>
<rect x="1494" y="80" width="5" height="4"/></g>
<g font-family="'Liberation Sans', Arial, sans-serif"><rect x="777.5" y="59.5" width="61" height="17" fill="#fff" stroke="#ff0000" stroke-width="1"/><text x="779.5" y="75" font-size="17" fill="#ff0000" textLength="57.5" lengthAdjust="spacingAndGlyphs">1.34837</text>
<ellipse cx="812.5" cy="67" rx="61.5" ry="10.5" fill="none" stroke="#00ff00" stroke-width="3"/>
<rect x="1121.5" y="169.5" width="61" height="18" fill="#fff" stroke="#ff0000" stroke-width="1"/><text x="1123.8" y="185" font-size="17" fill="#ff0000" textLength="57.3" lengthAdjust="spacingAndGlyphs">1.31707</text>
<rect x="1183.5" y="176.5" width="2" height="3" fill="none" stroke="#ff0000" stroke-width="1"/>
<rect x="1186" y="178" width="6" height="1" fill="#ff0000"/>
<rect x="921.5" y="344.5" width="61" height="18" fill="#fff" stroke="#ff0000" stroke-width="1"/><text x="923.8" y="360" font-size="17" fill="#ff0000" textLength="57" lengthAdjust="spacingAndGlyphs">1.26724</text>
<rect x="983" y="353" width="10" height="1" fill="#ff0000"/>
<rect x="1201.5" y="279.5" width="61" height="18" fill="#fff" stroke="#ff0000" stroke-width="1"/><text x="1203.8" y="295.2" font-size="17" fill="#ff0000" textLength="57" lengthAdjust="spacingAndGlyphs">1.28586</text>
<rect x="1263" y="288" width="9" height="1" fill="#ff0000"/>
<rect x="1257" y="92" width="10" height="1" fill="#ff0000"/>
<rect x="1267.5" y="80.5" width="73" height="24" fill="#fff" stroke="#ff0000" stroke-width="1"/><text x="1269.5" y="101" font-size="22" fill="#ff0000" textLength="70" lengthAdjust="spacingAndGlyphs">1.34150</text>
<rect x="1398" y="89" width="157" height="6" fill="#00ff00"/>
<line x1="1281" y1="262" x2="1500" y2="56" stroke="#ff0000" stroke-width="4"/>
<polygon points="1507.5,49 1495.5,54 1501.5,61.5" fill="#ff0000" stroke="#ff0000" stroke-width="1.5"/>
<text x="1529.5" y="142.5" font-family="'Liberation Sans', 'Noto Sans CJK SC', sans-serif" font-size="20" fill="#00ff00" textLength="107" lengthAdjust="spacingAndGlyphs" font-weight="300">多空转折点</text>
<polygon points="1507,23 1516,23 1511.5,28" fill="#c0c0c0" shape-rendering="auto"/></g>
<rect x="0" y="23" width="216" height="86" fill="#fff"/>
<defs>
<linearGradient id="gTab" x1="0" y1="0" x2="0" y2="1"><stop offset="0" stop-color="#f85454"/><stop offset="1" stop-color="#e43a3a"/></linearGradient>
<linearGradient id="gBox" x1="0" y1="0" x2="0" y2="1"><stop offset="0" stop-color="#e03535"/><stop offset="1" stop-color="#b00404"/></linearGradient>
<linearGradient id="gBtn" x1="0" y1="0" x2="0" y2="1"><stop offset="0" stop-color="#f2f2f2"/><stop offset="0.45" stop-color="#ebebeb"/><stop offset="0.5" stop-color="#dcdcdc"/><stop offset="1" stop-color="#d4d4d4"/></linearGradient>
</defs>
<rect x="0" y="42" width="47" height="25" fill="url(#gTab)"/>
<rect x="0" y="42" width="47" height="1" fill="#c00000"/>
<rect x="46" y="42" width="1" height="25" fill="#c00000"/>
<rect x="0" y="65" width="43" height="1" fill="#8b0000"/>
<rect x="0" y="66" width="43" height="1" fill="#f07070"/>
<rect x="162" y="42" width="52" height="25" fill="url(#gTab)"/>
<rect x="162" y="42" width="52" height="1" fill="#c00000"/>
<rect x="162" y="42" width="1" height="25" fill="#c00000"/>
<rect x="213" y="42" width="1" height="25" fill="#c00000"/>
<rect x="166" y="65" width="44" height="1" fill="#8b0000"/>
<rect x="166" y="66" width="44" height="1" fill="#f07070"/>
<rect x="0" y="67" width="104" height="39" fill="url(#gBox)"/>
<rect x="106" y="67" width="108" height="39" fill="url(#gBox)"/>
<rect x="46" y="66" width="1" height="1" fill="#c00000"/>
<rect x="49.5" y="42.5" width="110" height="21" fill="#fff" stroke="#a0a4ac" stroke-width="1"/>
<rect x="50" y="43" width="20" height="20" fill="url(#gBtn)"/>
<rect x="70" y="43" width="1" height="20" fill="#a0a4ac"/>
<rect x="139" y="43" width="20" height="20" fill="url(#gBtn)"/>
<rect x="138" y="43" width="1" height="20" fill="#a0a4ac"/>
<polygon points="57,51 62,51 59.5,54" fill="#4050b0" shape-rendering="auto"/>
<polygon points="146,54 151,54 148.5,51" fill="#4050b0" shape-rendering="auto"/>
<text x="134.8" y="57" text-anchor="end" font-size="12" fill="#000" font-family="'Liberation Sans', Arial, sans-serif">1.00</text>
<g fill="#fff" font-family="'Liberation Sans', Arial, sans-serif">
<text x="7.3" y="58" font-size="12.5" textLength="25.5" lengthAdjust="spacingAndGlyphs">SELL</text>
<text x="175.8" y="58" font-size="12.5" textLength="23" lengthAdjust="spacingAndGlyphs">BUY</text>
<text x="15.3" y="97" font-size="12.5" font-weight="bold" textLength="23.4" lengthAdjust="spacingAndGlyphs">1.34</text>
<text x="42" y="97" font-size="33.5" textLength="34" lengthAdjust="spacingAndGlyphs">42</text>
<text x="82" y="81" font-size="12" font-weight="bold" textLength="7" lengthAdjust="spacingAndGlyphs">4</text>
<text x="125.3" y="97" font-size="12.5" font-weight="bold" textLength="23.3" lengthAdjust="spacingAndGlyphs">1.34</text>
<text x="152.8" y="97" font-size="33.5" textLength="35.2" lengthAdjust="spacingAndGlyphs">44</text>
<text x="193" y="81" font-size="12" font-weight="bold" textLength="7" lengthAdjust="spacingAndGlyphs">8</text>
</g>
<g font-family="'Liberation Sans', Arial, sans-serif" fill="#000"><path d="M0.5,29.5 l1.5,1.5 M2.5,29 l1,1" stroke="#000" stroke-width="1" shape-rendering="auto"/>
<text x="7.2" y="34" font-size="10" textLength="214" lengthAdjust="spacingAndGlyphs">GBPUSD-,Daily  1.34506 1.35378 1.34122 1.34424</text></g>
</g>
<g clip-path="url(#cMacd)"><g fill="#c0c0c0"><rect x="0" y="666" width="1" height="16"/><rect x="8" y="665" width="1" height="17"/><rect x="16" y="666" width="1" height="16"/><rect x="24" y="667" width="1" height="15"/><rect x="32" y="668" width="1" height="14"/><rect x="40" y="675" width="1" height="7"/><rect x="48" y="678" width="1" height="4"/><rect x="56" y="679" width="1" height="3"/><rect x="64" y="679" width="1" height="3"/><rect x="80" y="681" width="1" height="10"/><rect x="88" y="681" width="1" height="16"/><rect x="96" y="681" width="1" height="21"/><rect x="104" y="681" width="1" height="31"/><rect x="112" y="681" width="1" height="40"/><rect x="120" y="681" width="1" height="40"/><rect x="128" y="681" width="1" height="38"/><rect x="136" y="681" width="1" height="36"/><rect x="144" y="681" width="1" height="35"/><rect x="152" y="681" width="1" height="36"/><rect x="160" y="681" width="1" height="35"/><rect x="168" y="681" width="1" height="27"/><rect x="176" y="681" width="1" height="24"/><rect x="184" y="681" width="1" height="19"/><rect x="192" y="681" width="1" height="19"/><rect x="200" y="681" width="1" height="14"/><rect x="208" y="681" width="1" height="10"/><rect x="216" y="680" width="1" height="2"/><rect x="224" y="666" width="1" height="16"/><rect x="232" y="657" width="1" height="25"/><rect x="240" y="648" width="1" height="34"/><rect x="248" y="638" width="1" height="44"/><rect x="256" y="628" width="1" height="54"/><rect x="264" y="621" width="1" height="61"/><rect x="272" y="617" width="1" height="65"/><rect x="280" y="614" width="1" height="68"/><rect x="288" y="620" width="1" height="62"/><rect x="296" y="630" width="1" height="52"/><rect x="304" y="636" width="1" height="46"/><rect x="312" y="635" width="1" height="47"/><rect x="320" y="638" width="1" height="44"/><rect x="328" y="643" width="1" height="39"/><rect x="336" y="653" width="1" height="29"/><rect x="344" y="664" width="1" height="18"/><rect x="352" y="674" width="1" height="8"/><rect x="360" y="674" width="1" height="8"/><rect x="368" y="673" width="1" height="9"/><rect x="376" y="678" width="1" height="4"/><rect x="392" y="681" width="1" height="7"/><rect x="400" y="681" width="1" height="12"/><rect x="408" y="681" width="1" height="18"/><rect x="416" y="681" width="1" height="18"/><rect x="424" y="681" width="1" height="14"/><rect x="432" y="681" width="1" height="11"/><rect x="440" y="681" width="1" height="8"/><rect x="448" y="681" width="1" height="5"/><rect x="456" y="681" width="1" height="2"/><rect x="464" y="679" width="1" height="3"/><rect x="472" y="672" width="1" height="10"/><rect x="480" y="666" width="1" height="16"/><rect x="488" y="662" width="1" height="20"/><rect x="496" y="658" width="1" height="24"/><rect x="504" y="659" width="1" height="23"/><rect x="512" y="659" width="1" height="23"/><rect x="520" y="659" width="1" height="23"/><rect x="528" y="660" width="1" height="22"/><rect x="536" y="662" width="1" height="20"/><rect x="544" y="662" width="1" height="20"/><rect x="552" y="658" width="1" height="24"/><rect x="560" y="652" width="1" height="30"/><rect x="568" y="648" width="1" height="34"/><rect x="576" y="645" width="1" height="37"/><rect x="584" y="640" width="1" height="42"/><rect x="592" y="637" width="1" height="45"/><rect x="600" y="630" width="1" height="52"/><rect x="608" y="623" width="1" height="59"/><rect x="616" y="616" width="1" height="66"/><rect x="624" y="604" width="1" height="78"/><rect x="632" y="596" width="1" height="86"/><rect x="640" y="591" width="1" height="91"/><rect x="648" y="590" width="1" height="92"/><rect x="656" y="589" width="1" height="93"/><rect x="664" y="588" width="1" height="94"/><rect x="672" y="587" width="1" height="95"/><rect x="680" y="592" width="1" height="90"/><rect x="688" y="597" width="1" height="85"/><rect x="696" y="600" width="1" height="82"/><rect x="704" y="605" width="1" height="77"/><rect x="712" y="610" width="1" height="72"/><rect x="720" y="614" width="1" height="68"/><rect x="728" y="616" width="1" height="66"/><rect x="736" y="618" width="1" height="64"/><rect x="744" y="620" width="1" height="62"/><rect x="752" y="616" width="1" height="66"/><rect x="760" y="620" width="1" height="62"/><rect x="768" y="618" width="1" height="64"/><rect x="776" y="624" width="1" height="58"/><rect x="784" y="629" width="1" height="53"/><rect x="792" y="635" width="1" height="47"/><rect x="800" y="636" width="1" height="46"/><rect x="808" y="634" width="1" height="48"/><rect x="816" y="634" width="1" height="48"/><rect x="824" y="627" width="1" height="55"/><rect x="832" y="622" width="1" height="60"/><rect x="840" y="619" width="1" height="63"/><rect x="848" y="614" width="1" height="68"/><rect x="856" y="615" width="1" height="67"/><rect x="864" y="620" width="1" height="62"/><rect x="872" y="623" width="1" height="59"/><rect x="880" y="629" width="1" height="53"/><rect x="888" y="638" width="1" height="44"/><rect x="896" y="655" width="1" height="27"/><rect x="904" y="667" width="1" height="15"/><rect x="912" y="681" width="1" height="6"/><rect x="920" y="681" width="1" height="21"/><rect x="928" y="681" width="1" height="33"/><rect x="936" y="681" width="1" height="39"/><rect x="944" y="681" width="1" height="42"/><rect x="952" y="681" width="1" height="40"/><rect x="960" y="681" width="1" height="37"/><rect x="968" y="681" width="1" height="37"/><rect x="976" y="681" width="1" height="36"/><rect x="984" y="681" width="1" height="41"/><rect x="992" y="681" width="1" height="48"/><rect x="1000" y="681" width="1" height="54"/><rect x="1008" y="681" width="1" height="56"/><rect x="1016" y="681" width="1" height="59"/><rect x="1024" y="681" width="1" height="58"/><rect x="1032" y="681" width="1" height="52"/><rect x="1040" y="681" width="1" height="47"/><rect x="1048" y="681" width="1" height="40"/><rect x="1056" y="681" width="1" height="35"/><rect x="1064" y="681" width="1" height="29"/><rect x="1072" y="681" width="1" height="24"/><rect x="1080" y="681" width="1" height="16"/><rect x="1088" y="681" width="1" height="16"/><rect x="1096" y="681" width="1" height="14"/><rect x="1104" y="681" width="1" height="11"/><rect x="1112" y="681" width="1" height="3"/><rect x="1120" y="679" width="1" height="3"/><rect x="1128" y="673" width="1" height="9"/><rect x="1136" y="675" width="1" height="7"/><rect x="1144" y="673" width="1" height="9"/><rect x="1152" y="676" width="1" height="6"/><rect x="1160" y="678" width="1" height="4"/><rect x="1168" y="680" width="1" height="2"/><rect x="1176" y="680" width="1" height="2"/><rect x="1184" y="679" width="1" height="3"/><rect x="1192" y="671" width="1" height="11"/><rect x="1200" y="667" width="1" height="15"/><rect x="1208" y="666" width="1" height="16"/><rect x="1216" y="664" width="1" height="18"/><rect x="1224" y="665" width="1" height="17"/><rect x="1232" y="665" width="1" height="17"/><rect x="1240" y="667" width="1" height="15"/><rect x="1248" y="672" width="1" height="10"/><rect x="1256" y="675" width="1" height="7"/><rect x="1264" y="679" width="1" height="3"/><rect x="1272" y="681" width="1" height="2"/><rect x="1280" y="675" width="1" height="7"/><rect x="1288" y="676" width="1" height="6"/><rect x="1296" y="670" width="1" height="12"/><rect x="1304" y="663" width="1" height="19"/><rect x="1312" y="657" width="1" height="25"/><rect x="1320" y="654" width="1" height="28"/><rect x="1328" y="647" width="1" height="35"/><rect x="1336" y="643" width="1" height="39"/><rect x="1344" y="646" width="1" height="36"/><rect x="1352" y="646" width="1" height="36"/><rect x="1360" y="644" width="1" height="38"/><rect x="1368" y="643" width="1" height="39"/><rect x="1376" y="641" width="1" height="41"/><rect x="1384" y="640" width="1" height="42"/><rect x="1392" y="640" width="1" height="42"/><rect x="1400" y="639" width="1" height="43"/><rect x="1408" y="637" width="1" height="45"/><rect x="1416" y="635" width="1" height="47"/><rect x="1424" y="633" width="1" height="49"/><rect x="1432" y="630" width="1" height="52"/><rect x="1440" y="630" width="1" height="52"/><rect x="1448" y="633" width="1" height="49"/><rect x="1456" y="635" width="1" height="47"/><rect x="1464" y="636" width="1" height="46"/><rect x="1472" y="634" width="1" height="48"/><rect x="1480" y="635" width="1" height="47"/><rect x="1488" y="633" width="1" height="49"/><rect x="1496" y="631" width="1" height="51"/></g><polyline fill="none" stroke="#ff0000" stroke-width="1" stroke-dasharray="3,3" points="0.5,674.5 8.5,674.5 16.5,673.5 24.5,672.5 32.5,671.5 40.5,670.5 48.5,670.5 56.5,670.5 64.5,671.5 72.5,672.5 80.5,674.5 88.5,678.5 96.5,682.5 104.5,687.5 112.5,692.5 120.5,696.5 128.5,701.5 136.5,705.5 144.5,709.5 152.5,711.5 160.5,714.5 168.5,714.5 176.5,713.5 184.5,711.5 192.5,709.5 200.5,706.5 208.5,703.5 216.5,699.5 224.5,694.5 232.5,687.5 240.5,681.5 248.5,674.5 256.5,666.5 264.5,657.5 272.5,648.5 280.5,640.5 288.5,633.5 296.5,629.5 304.5,627.5 312.5,626.5 320.5,626.5 328.5,627.5 336.5,631.5 344.5,636.5 352.5,643.5 360.5,649.5 368.5,654.5 376.5,658.5 384.5,663.5 392.5,669.5 400.5,674.5 408.5,679.5 416.5,683.5 424.5,685.5 432.5,687.5 440.5,688.5 448.5,689.5 456.5,689.5 464.5,688.5 472.5,686.5 480.5,683.5 488.5,679.5 496.5,675.5 504.5,671.5 512.5,668.5 520.5,665.5 528.5,663.5 536.5,661.5 544.5,660.5 552.5,659.5 560.5,658.5 568.5,657.5 576.5,655.5 584.5,653.5 592.5,651.5 600.5,647.5 608.5,643.5 616.5,638.5 624.5,632.5 632.5,626.5 640.5,619.5 648.5,613.5 656.5,608.5 664.5,602.5 672.5,597.5 680.5,594.5 688.5,592.5 696.5,591.5 704.5,592.5 712.5,594.5 720.5,597.5 728.5,600.5 736.5,603.5 744.5,607.5 752.5,610.5 760.5,612.5 768.5,614.5 776.5,616.5 784.5,618.5 792.5,621.5 800.5,623.5 808.5,625.5 816.5,626.5 824.5,628.5 832.5,628.5 840.5,628.5 848.5,627.5 856.5,625.5 864.5,624.5 872.5,622.5 880.5,622.5 888.5,622.5 896.5,625.5 904.5,630.5 912.5,638.5 920.5,647.5 928.5,658.5 936.5,669.5 944.5,680.5 952.5,690.5 960.5,699.5 968.5,706.5 976.5,711.5 984.5,715.5 992.5,718.5 1000.5,720.5 1008.5,722.5 1016.5,724.5 1024.5,726.5 1032.5,728.5 1040.5,729.5 1048.5,729.5 1056.5,729.5 1064.5,727.5 1072.5,723.5 1080.5,719.5 1088.5,714.5 1096.5,709.5 1104.5,705.5 1112.5,700.5 1120.5,695.5 1128.5,691.5 1136.5,687.5 1144.5,683.5 1152.5,681.5 1160.5,679.5 1168.5,678.5 1176.5,676.5 1184.5,676.5 1192.5,675.5 1200.5,674.5 1208.5,673.5 1216.5,672.5 1224.5,671.5 1232.5,670.5 1240.5,668.5 1248.5,667.5 1256.5,667.5 1264.5,668.5 1272.5,669.5 1280.5,670.5 1288.5,672.5 1296.5,672.5 1304.5,672.5 1312.5,671.5 1320.5,669.5 1328.5,666.5 1336.5,662.5 1344.5,658.5 1352.5,655.5 1360.5,651.5 1368.5,648.5 1376.5,646.5 1384.5,644.5 1392.5,642.5 1400.5,642.5 1408.5,641.5 1416.5,640.5 1424.5,638.5 1432.5,637.5 1440.5,635.5 1448.5,634.5 1456.5,634.5 1464.5,633.5 1472.5,633.5 1480.5,633.5 1488.5,632.5 1496.5,632.5"/></g>
<g clip-path="url(#cRsi)"><line x1="0" y1="785.5" x2="1682" y2="785.5" stroke="#c0c0c0" stroke-width="1" stroke-dasharray="3,3" stroke-dashoffset="1"/>
<line x1="0" y1="836.5" x2="1682" y2="836.5" stroke="#c0c0c0" stroke-width="1" stroke-dasharray="3,3" stroke-dashoffset="1"/>
<line x1="0" y1="897.5" x2="1682" y2="897.5" stroke="#c0c0c0" stroke-width="1" stroke-dasharray="3,3" stroke-dashoffset="1"/>
<polyline fill="none" stroke="#1e90ff" stroke-width="1" points="0.5,817.5 8.5,829.5 16.5,832.5 24.5,834.5 32.5,834.5 40.5,847.5 48.5,841.5 56.5,837.5 64.5,836.5 72.5,846.5 80.5,854.5 88.5,855.5 96.5,855.5 104.5,866.5 112.5,868.5 120.5,851.5 128.5,844.5 136.5,846.5 144.5,848.5 152.5,853.5 160.5,851.5 168.5,848.5 176.5,831.5 184.5,839.5 192.5,833.5 200.5,832.5 208.5,830.5 216.5,816.5 224.5,807.5 232.5,808.5 240.5,807.5 248.5,803.5 256.5,799.5 264.5,798.5 272.5,801.5 280.5,801.5 288.5,824.5 296.5,835.5 304.5,833.5 312.5,821.5 320.5,827.5 328.5,831.5 336.5,844.5 344.5,851.5 352.5,852.5 360.5,834.5 368.5,833.5 376.5,843.5 384.5,843.5 392.5,849.5 400.5,850.5 408.5,852.5 416.5,845.5 424.5,834.5 432.5,834.5 440.5,834.5 448.5,833.5 456.5,831.5 464.5,826.5 472.5,817.5 480.5,818.5 488.5,815.5 496.5,816.5 504.5,830.5 512.5,827.5 520.5,824.5 528.5,829.5 536.5,828.5 544.5,828.5 552.5,816.5 560.5,807.5 568.5,808.5 576.5,807.5 584.5,802.5 592.5,800.5 600.5,793.5 608.5,790.5 616.5,786.5 624.5,778.5 632.5,781.5 640.5,782.5 648.5,787.5 656.5,788.5 664.5,785.5 672.5,783.5 680.5,805.5 688.5,805.5 696.5,802.5 704.5,808.5 712.5,810.5 720.5,807.5 728.5,804.5 736.5,803.5 744.5,803.5 752.5,788.5 760.5,818.5 768.5,808.5 776.5,827.5 784.5,827.5 792.5,831.5 800.5,822.5 808.5,814.5 816.5,817.5 824.5,806.5 832.5,804.5 840.5,804.5 848.5,801.5 856.5,810.5 864.5,823.5 872.5,820.5 880.5,827.5 888.5,836.5 896.5,857.5 904.5,853.5 912.5,866.5 920.5,867.5 928.5,866.5 936.5,861.5 944.5,856.5 952.5,846.5 960.5,844.5 968.5,849.5 976.5,848.5 984.5,858.5 992.5,864.5 1000.5,866.5 1008.5,861.5 1016.5,862.5 1024.5,857.5 1032.5,843.5 1040.5,844.5 1048.5,838.5 1056.5,840.5 1064.5,835.5 1072.5,835.5 1080.5,827.5 1088.5,841.5 1096.5,838.5 1104.5,834.5 1112.5,824.5 1120.5,824.5 1128.5,820.5 1136.5,838.5 1144.5,830.5 1152.5,841.5 1160.5,838.5 1168.5,839.5 1176.5,839.5 1184.5,836.5 1192.5,818.5 1200.5,825.5 1208.5,829.5 1216.5,828.5 1224.5,832.5 1232.5,831.5 1240.5,836.5 1248.5,843.5 1256.5,840.5 1264.5,843.5 1272.5,844.5 1280.5,821.5 1288.5,838.5 1296.5,824.5 1304.5,822.5 1312.5,820.5 1320.5,822.5 1328.5,814.5 1336.5,818.5 1344.5,830.5 1352.5,825.5 1360.5,821.5 1368.5,821.5 1376.5,818.5 1384.5,819.5 1392.5,819.5 1400.5,816.5 1408.5,814.5 1416.5,812.5 1424.5,809.5 1432.5,806.5 1440.5,811.5 1448.5,822.5 1456.5,818.5 1464.5,817.5 1472.5,807.5 1480.5,819.5 1488.5,810.5 1496.5,810.5"/></g>
<rect x="0" y="22" width="1683" height="1" fill="#000"/>
<rect x="0" y="575" width="1683" height="1" fill="#000"/>
<rect x="0" y="577" width="1683" height="1" fill="#000"/>
<rect x="0" y="747" width="1683" height="1" fill="#000"/>
<rect x="0" y="749" width="1683" height="1" fill="#000"/>
<rect x="0" y="922" width="1683" height="1" fill="#000"/>
<rect x="1682" y="22" width="1" height="901" fill="#000"/>
<rect x="1728" y="20" width="1" height="920" fill="#e3e3e3"/>
<g font-family="'Liberation Sans', Arial, sans-serif" fill="#000"><text x="-6" y="590" font-size="10" textLength="150.5" lengthAdjust="spacingAndGlyphs">MACD(12,26,9) 0.008146 0.007871</text><text x="-5" y="762" font-size="10" textLength="70" lengthAdjust="spacingAndGlyphs">RSI(14) 65.2421</text></g>
<g font-family="'Liberation Sans', Arial, sans-serif" font-size="9.7" fill="#000"><rect x="1683" y="44" width="3" height="1" fill="#000"/>
<text x="1688.5" y="48" textLength="32.5" lengthAdjust="spacingAndGlyphs">1.35535</text>
<rect x="1683" y="77" width="3" height="1" fill="#000"/>
<text x="1688.5" y="81" textLength="32.5" lengthAdjust="spacingAndGlyphs">1.34585</text>
<rect x="1683" y="110" width="3" height="1" fill="#000"/>
<text x="1688.5" y="114" textLength="32.5" lengthAdjust="spacingAndGlyphs">1.33635</text>
<rect x="1683" y="143" width="3" height="1" fill="#000"/>
<text x="1688.5" y="147" textLength="32.5" lengthAdjust="spacingAndGlyphs">1.32710</text>
<rect x="1683" y="176" width="3" height="1" fill="#000"/>
<text x="1688.5" y="180" textLength="32.5" lengthAdjust="spacingAndGlyphs">1.31760</text>
<rect x="1683" y="209" width="3" height="1" fill="#000"/>
<text x="1688.5" y="213" textLength="32.5" lengthAdjust="spacingAndGlyphs">1.30835</text>
<rect x="1683" y="242" width="3" height="1" fill="#000"/>
<text x="1688.5" y="246" textLength="32.5" lengthAdjust="spacingAndGlyphs">1.29885</text>
<rect x="1683" y="275" width="3" height="1" fill="#000"/>
<text x="1688.5" y="279" textLength="32.5" lengthAdjust="spacingAndGlyphs">1.28935</text>
<rect x="1683" y="308" width="3" height="1" fill="#000"/>
<text x="1688.5" y="312" textLength="32.5" lengthAdjust="spacingAndGlyphs">1.28010</text>
<rect x="1683" y="341" width="3" height="1" fill="#000"/>
<text x="1688.5" y="345" textLength="32.5" lengthAdjust="spacingAndGlyphs">1.27060</text>
<rect x="1683" y="374" width="3" height="1" fill="#000"/>
<text x="1688.5" y="378" textLength="32.5" lengthAdjust="spacingAndGlyphs">1.26110</text>
<rect x="1683" y="407" width="3" height="1" fill="#000"/>
<text x="1688.5" y="411" textLength="32.5" lengthAdjust="spacingAndGlyphs">1.25185</text>
<rect x="1683" y="440" width="3" height="1" fill="#000"/>
<text x="1688.5" y="444" textLength="32.5" lengthAdjust="spacingAndGlyphs">1.24235</text>
<rect x="1683" y="473" width="3" height="1" fill="#000"/>
<text x="1688.5" y="477" textLength="32.5" lengthAdjust="spacingAndGlyphs">1.23310</text>
<rect x="1683" y="506" width="3" height="1" fill="#000"/>
<text x="1688.5" y="510" textLength="32.5" lengthAdjust="spacingAndGlyphs">1.22360</text>
<rect x="1683" y="539" width="3" height="1" fill="#000"/>
<text x="1688.5" y="543" textLength="32.5" lengthAdjust="spacingAndGlyphs">1.21410</text>
<rect x="1683" y="572" width="3" height="1" fill="#000"/>
<text x="1688.5" y="576" textLength="32.5" lengthAdjust="spacingAndGlyphs">1.20485</text>
<rect x="1683" y="579" width="2" height="1" fill="#000"/>
<text x="1686.5" y="588" textLength="27" lengthAdjust="spacingAndGlyphs">0.0165</text>
<rect x="1683" y="681" width="3" height="1" fill="#000"/>
<text x="1686.5" y="685" textLength="17" lengthAdjust="spacingAndGlyphs">0.00</text>
<text x="1686.5" y="745" textLength="39.5" lengthAdjust="spacingAndGlyphs">-0.010571</text>
<text x="1686.5" y="760" textLength="15" lengthAdjust="spacingAndGlyphs">100</text>
<text x="1685.7" y="789" textLength="8.5" lengthAdjust="spacingAndGlyphs">80</text>
<text x="1685.7" y="840" textLength="8.5" lengthAdjust="spacingAndGlyphs">50</text>
<text x="1685.7" y="901" textLength="8.5" lengthAdjust="spacingAndGlyphs">15</text>
<text x="1685.5" y="920" textLength="5" lengthAdjust="spacingAndGlyphs">0</text></g>
<g font-family="'Liberation Sans', Arial, sans-serif" font-size="9.7"><rect x="1684" y="44" width="41" height="11" fill="#ff4500"/>
<text x="1688.5" y="53" textLength="32.5" lengthAdjust="spacingAndGlyphs" fill="#fff">1.35368</text>
<rect x="1684" y="62" width="41" height="11" fill="#ff0000"/>
<text x="1688.5" y="71" textLength="32.5" lengthAdjust="spacingAndGlyphs" fill="#fff">1.34837</text>
<rect x="1684" y="78" width="41" height="8" fill="#000000"/>
<text x="1688.5" y="87" textLength="32.5" lengthAdjust="spacingAndGlyphs" fill="#fff">1.34424</text>
<rect x="1684" y="86" width="41" height="11" fill="#32cd32"/>
<text x="1688.5" y="95" textLength="32.5" lengthAdjust="spacingAndGlyphs" fill="#fff">1.34150</text>
<rect x="1684" y="101" width="41" height="11" fill="#0000ff"/>
<text x="1688.5" y="110" textLength="32.5" lengthAdjust="spacingAndGlyphs" fill="#fff">1.33735</text>
<rect x="1684" y="115" width="41" height="11" fill="#0000ff"/>
<text x="1688.5" y="124" textLength="32.5" lengthAdjust="spacingAndGlyphs" fill="#fff">1.33333</text></g>
<g font-family="'Liberation Sans', Arial, sans-serif" font-size="9.75" fill="#000"><rect x="-8" y="923" width="1" height="3" fill="#000"/>
<text x="-9" y="936">30 Apr 2020</text>
<rect x="56" y="923" width="1" height="3" fill="#000"/>
<text x="55" y="936">8 May 2020</text>
<rect x="120" y="923" width="1" height="3" fill="#000"/>
<text x="119" y="936">18 May 2020</text>
<rect x="184" y="923" width="1" height="3" fill="#000"/>
<text x="183" y="936">27 May 2020</text>
<rect x="248" y="923" width="1" height="3" fill="#000"/>
<text x="247" y="936">5 Jun 2020</text>
<rect x="312" y="923" width="1" height="3" fill="#000"/>
<text x="311" y="936">15 Jun 2020</text>
<rect x="376" y="923" width="1" height="3" fill="#000"/>
<text x="375" y="936">24 Jun 2020</text>
<rect x="440" y="923" width="1" height="3" fill="#000"/>
<text x="439" y="936">3 Jul 2020</text>
<rect x="504" y="923" width="1" height="3" fill="#000"/>
<text x="503" y="936">13 Jul 2020</text>
<rect x="568" y="923" width="1" height="3" fill="#000"/>
<text x="567" y="936">22 Jul 2020</text>
<rect x="632" y="923" width="1" height="3" fill="#000"/>
<text x="631" y="936">31 Jul 2020</text>
<rect x="696" y="923" width="1" height="3" fill="#000"/>
<text x="695" y="936">10 Aug 2020</text>
<rect x="760" y="923" width="1" height="3" fill="#000"/>
<text x="759" y="936">19 Aug 2020</text>
<rect x="824" y="923" width="1" height="3" fill="#000"/>
<text x="823" y="936">28 Aug 2020</text>
<rect x="888" y="923" width="1" height="3" fill="#000"/>
<text x="887" y="936">7 Sep 2020</text>
<rect x="952" y="923" width="1" height="3" fill="#000"/>
<text x="951" y="936">16 Sep 2020</text>
<rect x="1016" y="923" width="1" height="3" fill="#000"/>
<text x="1015" y="936">25 Sep 2020</text>
<rect x="1080" y="923" width="1" height="3" fill="#000"/>
<text x="1079" y="936">5 Oct 2020</text>
<rect x="1144" y="923" width="1" height="3" fill="#000"/>
<text x="1143" y="936">14 Oct 2020</text>
<rect x="1208" y="923" width="1" height="3" fill="#000"/>
<text x="1207" y="936">23 Oct 2020</text>
<rect x="1272" y="923" width="1" height="3" fill="#000"/>
<text x="1271" y="936">2 Nov 2020</text>
<rect x="1336" y="923" width="1" height="3" fill="#000"/>
<text x="1335" y="936">11 Nov 2020</text>
<rect x="1400" y="923" width="1" height="3" fill="#000"/>
<text x="1399" y="936">20 Nov 2020</text>
<rect x="1464" y="923" width="1" height="3" fill="#000"/>
<text x="1463" y="936">30 Nov 2020</text></g>
</svg>
</body></html>
